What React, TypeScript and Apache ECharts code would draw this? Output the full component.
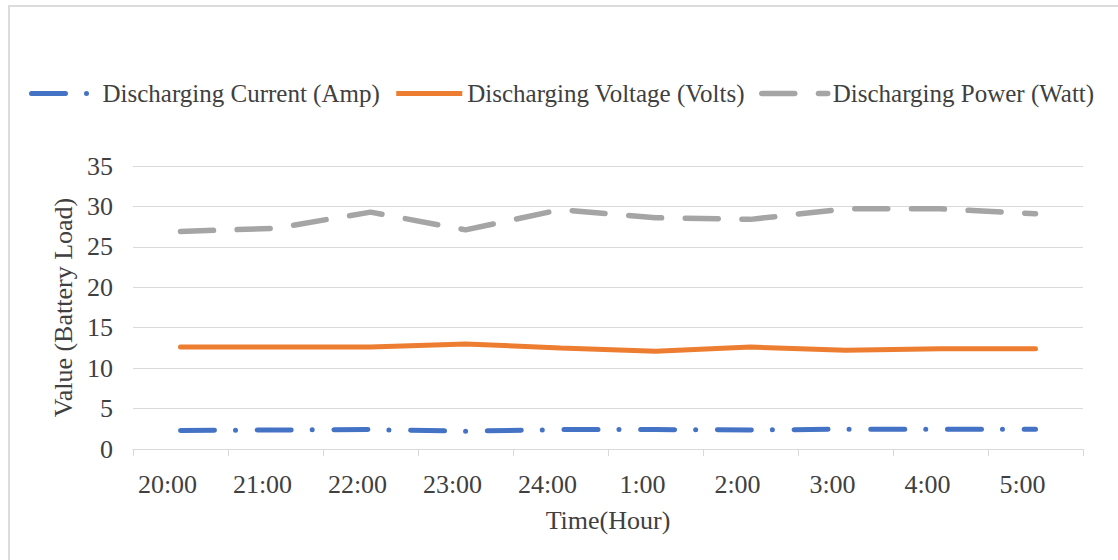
import React, { useEffect, useRef } from "react";
import * as echarts from "echarts";

const categories = ["20:00", "21:00", "22:00", "23:00", "24:00", "1:00", "2:00", "3:00", "4:00", "5:00"];
const currentAmp = [2.3, 2.35, 2.4, 2.2, 2.4, 2.4, 2.35, 2.45, 2.45, 2.45];
const voltageVolts = [12.6, 12.6, 12.6, 13.0, 12.5, 12.1, 12.6, 12.2, 12.4, 12.4];
const powerWatt = [26.9, 27.3, 29.3, 27.1, 29.6, 28.6, 28.4, 29.7, 29.7, 29.1];
const seriesNames = [
  "Discharging Current (Amp)",
  "Discharging Voltage (Volts)",
  "Discharging Power (Watt)",
];
const yTicks = { min: 0, max: 35, interval: 5 };

const FONT = "'Liberation Serif', 'Times New Roman', serif";
const TXT = "#404040";

const COLORS = ["#4472c4", "#ed7d31", "#a5a5a5"];
const DASH_CURRENT = [34, 21, 0, 21.7];
const DASH_POWER = [33, 23.7];

export default function App() {
  const ref = useRef<HTMLDivElement>(null);
  useEffect(() => {
    if (!ref.current) return;
    const chart = echarts.init(ref.current, undefined, { renderer: "svg" });
    chart.setOption({
      animation: false,
      backgroundColor: "#ffffff",
      textStyle: { fontFamily: FONT },
      graphic: [
        {
          type: "rect",
          shape: { x: 9, y: 6, width: 1400, height: 800 },
          style: { fill: "none", stroke: "#dcdcdc", lineWidth: 2 },
          silent: true,
        },
      ],
      legend: {
        left: 24,
        top: 76,
        itemWidth: 66,
        itemHeight: 14,
        itemGap: 14,
        textStyle: { fontFamily: FONT, fontSize: 25, color: TXT },
        itemStyle: { opacity: 0 },
        data: [
          {
            name: seriesNames[0],
            itemStyle: { opacity: 0 },
            lineStyle: { color: COLORS[0], width: 5, type: DASH_CURRENT, cap: "round" },
          },
          {
            name: seriesNames[1],
            itemStyle: { opacity: 0 },
            lineStyle: { color: COLORS[1], width: 5, type: "solid", cap: "butt" },
          },
          {
            name: seriesNames[2],
            itemStyle: { opacity: 0 },
            lineStyle: { color: COLORS[2], width: 5.5, type: DASH_POWER, cap: "round" },
          },
        ],
      },
      grid: { left: 133, right: 35, top: 166, bottom: 111, containLabel: false },
      xAxis: {
        type: "category",
        data: categories,
        boundaryGap: true,
        name: "Time(Hour)",
        nameLocation: "middle",
        nameGap: 58,
        nameTextStyle: { fontFamily: FONT, fontSize: 26, color: TXT },
        axisLine: { show: true, lineStyle: { color: "#d9d9d9", width: 1 } },
        axisTick: { show: true, length: 7, lineStyle: { color: "#d9d9d9" } },
        axisLabel: {
          fontFamily: FONT,
          fontSize: 26,
          color: TXT,
          margin: 22,
          padding: [0, 26, 0, 0],
        },
      },
      yAxis: {
        type: "value",
        min: yTicks.min,
        max: yTicks.max,
        interval: yTicks.interval,
        name: "Value (Battery Load)",
        nameLocation: "middle",
        nameGap: 52,
        nameTextStyle: { fontFamily: FONT, fontSize: 26, color: TXT },
        axisLine: { show: false },
        axisTick: { show: false },
        axisLabel: { fontFamily: FONT, fontSize: 26, color: TXT, margin: 20 },
        splitLine: { lineStyle: { color: "#d9d9d9", width: 1 } },
      },
      series: [
        {
          name: seriesNames[0],
          type: "line",
          data: currentAmp,
          symbol: "none",
          lineStyle: { color: COLORS[0], width: 5, type: DASH_CURRENT, cap: "round" },
          itemStyle: { color: COLORS[0] },
        },
        {
          name: seriesNames[1],
          type: "line",
          data: voltageVolts,
          symbol: "none",
          lineStyle: { color: COLORS[1], width: 5, type: "solid", cap: "round" },
          itemStyle: { color: COLORS[1] },
        },
        {
          name: seriesNames[2],
          type: "line",
          data: powerWatt,
          symbol: "none",
          lineStyle: { color: COLORS[2], width: 5.5, type: DASH_POWER, cap: "round" },
          itemStyle: { color: COLORS[2] },
        },
      ],
    });
    return () => chart.dispose();
  }, []);
  return (
    <div
      ref={ref}
      style={{ position: "fixed", left: 0, top: 0, width: 1118, height: 560 }}
    />
  );
}
